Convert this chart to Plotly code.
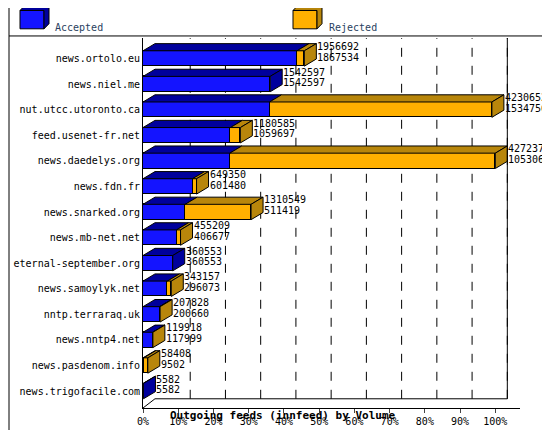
import plotly.graph_objects as go

hosts = ["news.ortolo.eu","news.niel.me","nut.utcc.utoronto.ca","feed.usenet-fr.net",
         "news.daedelys.org","news.fdn.fr","news.snarked.org","news.mb-net.net",
         "eternal-september.org","news.samoylyk.net","nntp.terraraq.uk","news.nntp4.net",
         "news.pasdenom.info","news.trigofacile.com"]
offered = [1956692,1542597,4230652,1180585,4272371,649350,1310549,455209,360553,343157,207828,119918,58408,5582]
accepted = [1867534,1542597,1534756,1059697,1053069,601480,511419,406677,360553,296073,200660,117999,9502,5582]
xticks = [0,10,20,30,40,50,60,70,80,90,100]

mx = max(offered)
ys = list(range(len(hosts)))
acc_p = [a/mx*100 for a in accepted]
rej_p = [(o-a)/mx*100 for o, a in zip(offered, accepted)]
tot_p = [o/mx*100 for o in offered]

BLUE, BLUE_D = "#1414ff", "#00009c"
ORA, ORA_D = "#ffb000", "#b8860b"
MONO = "DejaVu Sans Mono"
dx, dy, h = 3.4, 0.28, 0.3

fig = go.Figure()
fig.add_bar(y=ys, x=acc_p, orientation="h", width=2*h, marker=dict(color=BLUE, line=dict(color="black", width=1)), hoverinfo="skip")
fig.add_bar(y=ys, x=rej_p, orientation="h", width=2*h, marker=dict(color=ORA, line=dict(color="black", width=1)), hoverinfo="skip")

shapes = []
for t in xticks[1:]:
    shapes.append(dict(type="line", xref="x", yref="y", x0=t+dx, x1=t+dx, y0=13.3, y1=-0.8,
                       line=dict(color="black", width=1, dash="dash"), layer="below"))
def poly(pts, fill):
    p = "M " + " L ".join(f"{x},{y}" for x, y in pts) + " Z"
    return dict(type="path", xref="x", yref="y", path=p, fillcolor=fill, line=dict(color="black", width=1))
for y, a, t in zip(ys, acc_p, tot_p):
    top = y - h
    shapes.append(poly([(0, top), (dx, top-dy), (a+dx, top-dy), (a, top)], BLUE_D))
    if t > a:
        shapes.append(poly([(a, top), (a+dx, top-dy), (t+dx, top-dy), (t, top)], ORA_D))
    side = ORA_D if t > a else BLUE_D
    shapes.append(poly([(t, top), (t+dx, top-dy), (t+dx, y+h-dy), (t, y+h)], side))

def px(x): return (x-135)/377
def py(y): return (400-y)/363
shapes.append(dict(type="rect", xref="paper", yref="paper", x0=px(1), x1=px(548), y0=py(428), y1=py(1), line=dict(color="black", width=1)))
shapes.append(dict(type="line", xref="paper", yref="paper", x0=px(1), x1=px(548), y0=py(35), y1=py(35), line=dict(color="black", width=1)))
shapes.append(dict(type="line", xref="x", yref="y", x0=100+dx, x1=100+dx, y0=13.3, y1=-0.8, line=dict(color="black", width=1)))
shapes.append(dict(type="line", xref="x", yref="y", x0=0, x1=dx, y0=13.66, y1=13.3, line=dict(color="black", width=1)))
shapes.append(dict(type="line", xref="x", yref="y", x0=dx, x1=100+dx, y0=13.3, y1=13.3, line=dict(color="black", width=1)))
for x0, c, cd in [(12, BLUE, BLUE_D), (285, ORA, ORA_D)]:
    shapes.append(dict(type="rect", xref="paper", yref="paper", x0=px(x0), x1=px(x0+24), y0=py(28), y1=py(10), fillcolor=c, line=dict(color="black", width=1)))
    shapes.append(dict(type="path", xref="paper", yref="paper",
                       path=f"M {px(x0)},{py(10)} L {px(x0+5)},{py(5)} L {px(x0+29)},{py(5)} L {px(x0+29)},{py(23)} L {px(x0+24)},{py(28)} L {px(x0+24)},{py(10)} Z",
                       fillcolor=cd, line=dict(color="black", width=1)))

ann = []
for y, t, o, a in zip(ys, tot_p, offered, accepted):
    for val, off in [(o, -0.47), (a, -0.05)]:
        ann.append(dict(x=t+dx, y=y+off, xref="x", yref="y", text=str(val), showarrow=False,
                        xanchor="left", yanchor="middle", xshift=-1, font=dict(family=MONO, size=10, color="black")))
ann.append(dict(x=px(45), y=py(19), xref="paper", yref="paper", text="Accepted", showarrow=False, xanchor="left", font=dict(family=MONO, size=10)))
ann.append(dict(x=px(319), y=py(19), xref="paper", yref="paper", text="Rejected", showarrow=False, xanchor="left", font=dict(family=MONO, size=10)))
ann.append(dict(x=px(275), y=py(416), xref="paper", yref="paper", text="<b>Outgoing feeds (innfeed) by Volume</b>", showarrow=False,
                font=dict(family=MONO, size=11, color="black")))

fig.update_layout(
    width=550, height=430, barmode="stack", showlegend=False, bargap=0,
    margin=dict(l=135, r=38, t=30, b=30, autoexpand=False), paper_bgcolor="white", plot_bgcolor="white",
    shapes=shapes, annotations=ann,
    xaxis=dict(range=[0, 107], tickvals=xticks, ticktext=[f"{t}%" for t in xticks], showgrid=False, zeroline=False,
               automargin=False, ticks="outside", ticklen=4, tickfont=dict(family=MONO, size=10, color="black"),
               showline=True, linecolor="black"),
    yaxis=dict(range=[13.66, -0.8], tickvals=ys, ticktext=hosts, showgrid=False, zeroline=False, automargin=False,
               showline=True, linecolor="black", ticks="", tickfont=dict(family=MONO, size=10, color="black")),
)
fig.write_html("out.html")
